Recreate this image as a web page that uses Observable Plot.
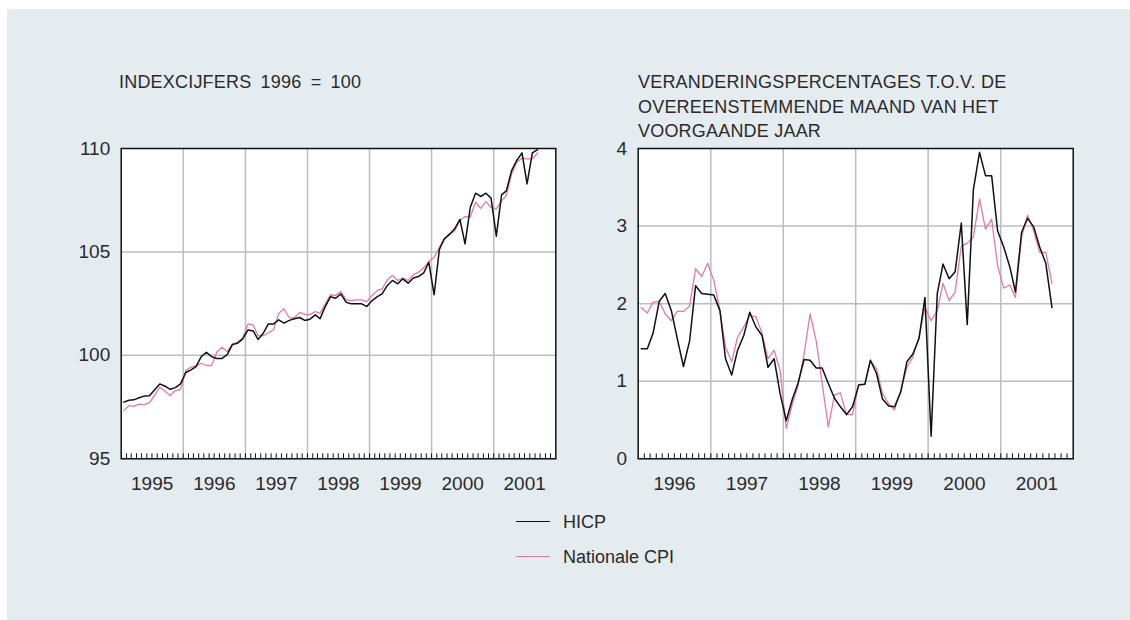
<!DOCTYPE html>
<html>
<head>
<meta charset="utf-8">
<script src="https://cdn.jsdelivr.net/npm/d3@7"></script>
<script src="https://cdn.jsdelivr.net/npm/@observablehq/plot@0.6"></script>
<style>
  html, body { margin: 0; padding: 0; background: #fff; }
  #wrap { position: relative; width: 1130px; height: 620px; overflow: hidden; background: #fff;
          font-family: "Liberation Sans", Arial, sans-serif; color: #2a2a2a; }
  #panel { position: absolute; left: 7px; top: 9px; right: 0; bottom: 0; background: #e5ecf0; }
  .title { position: absolute; font-size: 18px; white-space: nowrap; letter-spacing: 0.2px; }
  .chart { position: absolute; top: 0; }
  .lg-line { position: absolute; left: 516px; width: 34px; height: 1.4px; }
  .lg-text { position: absolute; left: 563px; font-size: 18px; line-height: 26px; white-space: nowrap; }
</style>
</head>
<body>
<div id="wrap">
  <div id="panel"></div>
  <div class="title" style="left:119px; top:69px; line-height:26px; word-spacing:4px;">INDEXCIJFERS 1996 = 100</div>
  <div class="title" style="left:638px; top:70px; line-height:24.7px;">VERANDERINGSPERCENTAGES T.O.V. DE<br>OVEREENSTEMMENDE MAAND VAN HET<br>VOORGAANDE JAAR</div>
  <div id="left" class="chart" style="left:0; width:570px; height:500px;"></div>
  <div id="right" class="chart" style="left:570px; width:560px; height:500px;"></div>
  <div class="lg-line" style="top:521px; background:#111;"></div>
  <div class="lg-text" style="top:509px;">HICP</div>
  <div class="lg-line" style="top:556px; background:#e47aa6;"></div>
  <div class="lg-text" style="top:544px;">Nationale CPI</div>
</div>
<script>
// ---------- data ----------
// Left panel: index figures, monthly, January 1995 – September 2001
const indexStart = [1995, 0];
const hicpIndex = [
  97.74, 97.83, 97.85, 97.95, 98.03, 98.05, 98.33, 98.62, 98.51, 98.36, 98.44, 98.62,
  99.17, 99.30, 99.46, 99.94, 100.15, 99.94, 99.85, 99.85, 100.04, 100.52, 100.59, 100.80,
  101.23, 101.18, 100.77, 101.07, 101.52, 101.52, 101.72, 101.56, 101.69, 101.77, 101.83, 101.69,
  101.75, 101.96, 101.77, 102.37, 102.83, 102.76, 102.97, 102.57, 102.49, 102.49, 102.49, 102.36,
  102.65, 102.84, 102.97, 103.38, 103.62, 103.46, 103.70, 103.49, 103.74, 103.81, 103.99, 104.50,
  102.93, 105.12, 105.63, 105.86, 106.12, 106.57, 105.39, 107.16, 107.84, 107.68, 107.84, 107.60,
  105.76, 107.76, 107.95, 108.93, 109.42, 109.79, 108.29, 109.79, 109.95
];
const cpiIndex = [
  97.33, 97.58, 97.53, 97.64, 97.62, 97.72, 98.06, 98.46, 98.27, 98.06, 98.30, 98.35,
  99.27, 99.43, 99.49, 99.62, 99.51, 99.51, 100.15, 100.39, 100.18, 100.55, 100.63, 100.84,
  101.52, 101.46, 100.96, 100.95, 101.08, 101.25, 102.03, 102.25, 101.82, 101.82, 102.08, 101.98,
  101.97, 102.12, 102.03, 102.49, 102.93, 102.89, 103.09, 102.68, 102.65, 102.68, 102.68, 102.60,
  102.89, 103.13, 103.21, 103.65, 103.86, 103.62, 103.74, 103.62, 103.90, 104.02, 104.23, 104.54,
  104.74, 105.23, 105.63, 105.83, 106.03, 106.52, 106.71, 106.69, 107.40, 107.11, 107.43, 107.16,
  107.08, 107.47, 107.73, 108.77, 109.34, 109.53, 109.50, 109.50, 109.79
];
const indexYears = [1995, 1996, 1997, 1998, 1999, 2000, 2001];
const indexYTicks = [95, 100, 105, 110];

// Right panel: year-on-year % change, monthly, January 1996 – September 2001
const pctStart = [1996, 0];
const hicpPct = [
  1.42, 1.42, 1.62, 2.03, 2.13, 1.91, 1.55, 1.19, 1.52, 2.23, 2.13, 2.12,
  2.11, 1.91, 1.29, 1.08, 1.40, 1.59, 1.89, 1.70, 1.59, 1.18, 1.29, 0.84,
  0.49, 0.77, 0.97, 1.28, 1.27, 1.17, 1.17, 0.97, 0.78, 0.67, 0.57, 0.67,
  0.95, 0.96, 1.27, 1.10, 0.77, 0.68, 0.67, 0.86, 1.25, 1.35, 1.55, 2.08,
  0.29, 2.13, 2.51, 2.32, 2.41, 3.04, 1.73, 3.47, 3.95, 3.65, 3.65, 2.94,
  2.73, 2.47, 2.15, 2.92, 3.10, 2.99, 2.73, 2.52, 1.95
];
const cpiPct = [
  1.95, 1.88, 2.02, 2.03, 1.87, 1.78, 1.90, 1.90, 1.97, 2.45, 2.35, 2.52,
  2.30, 1.91, 1.44, 1.25, 1.57, 1.70, 1.85, 1.83, 1.62, 1.29, 1.40, 1.14,
  0.39, 0.71, 0.94, 1.35, 1.87, 1.52, 0.97, 0.41, 0.82, 0.85, 0.57, 0.57,
  0.96, 0.96, 1.27, 1.16, 0.84, 0.71, 0.63, 0.88, 1.18, 1.31, 1.57, 1.95,
  1.78, 1.91, 2.26, 2.04, 2.15, 2.74, 2.78, 2.86, 3.35, 2.96, 3.09, 2.49,
  2.20, 2.24, 2.08, 2.86, 3.14, 2.94, 2.66, 2.66, 2.26
];
const pctYears = [1996, 1997, 1998, 1999, 2000, 2001];
const pctYTicks = [0, 1, 2, 3, 4];

// ---------- drawing ----------
const BLACK = "#111";
const PINK = "#e47aa6";
const GRID = "#bdbdbd";

function rows(values, [y0, m0]) {
  return values.map((v, i) => ({date: new Date(Date.UTC(y0, m0 + i, 16)), value: v}));
}

function chart({hicp, cpi, start, years, yTicks, width, marginLeft, marginRight}) {
  const y0 = years[0], y1 = years[years.length - 1] + 1;
  const domain = [new Date(Date.UTC(y0, 0, 1)), new Date(Date.UTC(y1, 0, 1))];
  const yearStarts = years.slice(1).map(y => new Date(Date.UTC(y, 0, 1)));
  const midYears = years.map(y => new Date(Date.UTC(y, 6, 2)));
  const months = d3.utcMonths(domain[0], domain[1]).slice(1);
  const font = {fontSize: 19};
  return Plot.plot({
    width, height: 500,
    marginLeft, marginRight, marginTop: 148, marginBottom: 41.7,
    x: {type: "utc", domain},
    y: {domain: [yTicks[0], yTicks[yTicks.length - 1]]},
    style: {background: "transparent", fontFamily: '"Liberation Sans", Arial, sans-serif',
            fontSize: "19px", color: "#2a2a2a", overflow: "visible"},
    marks: [
      Plot.frame({fill: "white"}),
      Plot.gridX(yearStarts, {stroke: GRID, strokeOpacity: 1, strokeWidth: 1.5}),
      Plot.gridY(yTicks.slice(1, -1), {stroke: GRID, strokeOpacity: 1, strokeWidth: 1.5}),
      Plot.axisX(months, {tickSize: -5, tickFormat: () => "", stroke: BLACK, strokeWidth: 1, label: null}),
      Plot.axisX(midYears, {tickSize: 0, tickPadding: 18, tickFormat: d => String(d.getUTCFullYear()), label: null, ...font}),
      Plot.axisY(yTicks, {tickSize: 0, tickPadding: 11, tickFormat: d => String(d), label: null, ...font}),
      Plot.line(rows(cpi, start), {x: "date", y: "value", stroke: PINK, strokeWidth: 1.3}),
      Plot.line(rows(hicp, start), {x: "date", y: "value", stroke: BLACK, strokeWidth: 1.5}),
      Plot.frame({stroke: BLACK, strokeWidth: 1.5})
    ]
  });
}

document.getElementById("left").append(chart({
  hicp: hicpIndex, cpi: cpiIndex, start: indexStart, years: indexYears, yTicks: indexYTicks,
  width: 570, marginLeft: 120.7, marginRight: 14.7
}));
document.getElementById("right").append(chart({
  hicp: hicpPct, cpi: cpiPct, start: pctStart, years: pctYears, yTicks: pctYTicks,
  width: 560, marginLeft: 67.7, marginRight: 57.3
}));
</script>
</body>
</html>
